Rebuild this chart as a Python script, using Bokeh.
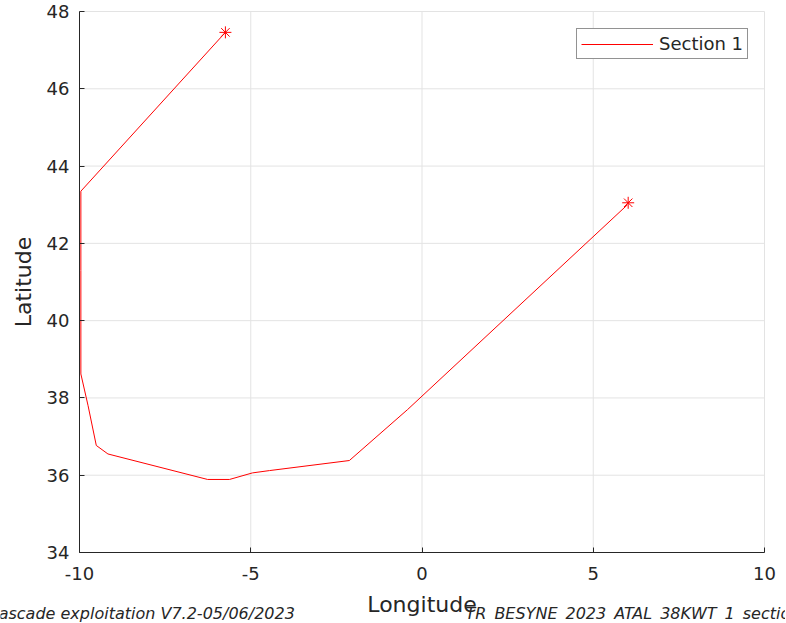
from bokeh.plotting import figure
from bokeh.models import Range1d, FixedTicker, Legend, LegendItem, Label
from bokeh.embed import file_html
from bokeh.resources import INLINE

# Track of Section 1 (longitude, latitude)
track_lon = [-5.74, -9.96, -9.96, -9.96, -9.75, -9.51, -9.17, -6.26, -5.62, -4.95, -4.45, -2.12, -0.42, 6.0]
track_lat = [47.46, 43.35, 41.30, 38.62, 37.80, 36.77, 36.55, 35.89, 35.89, 36.06, 36.12, 36.38, 37.70, 43.0]
start_lon = [-5.74]
start_lat = [47.46]
end_lon = [6.02]
end_lat = [43.05]

x_ticks = [-10, -5, 0, 5, 10]
x_tick_labels = ["-10", "-5", "0", "5", "10"]
y_ticks = [34, 36, 38, 40, 42, 44, 46, 48]

x_label = "Longitude"
y_label = "Latitude"
footer_left = "Cascade exploitation V7.2-05/06/2023"
footer_right = "TR_BESYNE_2023_ATAL_38KWT_1_section1"

FONT = "DejaVu Sans"
TXT = "#262626"
GRID = "#e3e3e3"

W, H = 785, 622
# axes box in canvas pixels
BL, BR, BT, BB = 79, 764, 11, 552
xs = (BR - BL) / (x_ticks[-1] - x_ticks[0])
ys = (BB - BT) / (y_ticks[-1] - y_ticks[0])
x_range = Range1d(x_ticks[0] - BL / xs, x_ticks[-1] + (W - BR) / xs)
y_range = Range1d(y_ticks[0] - (H - BB) / ys, y_ticks[-1] + BT / ys)

p = figure(width=W, height=H, output_backend="svg", toolbar_location=None,
           x_range=x_range, y_range=y_range,
           min_border_left=0, min_border_right=0, min_border_top=0, min_border_bottom=0)

p.background_fill_color = "white"
p.border_fill_color = "white"
p.outline_line_color = None
p.grid.visible = False

# grid lines limited to the axes box
n_x, n_y = len(x_ticks), len(y_ticks)
p.segment(x0=x_ticks, y0=[y_ticks[0]] * n_x, x1=x_ticks, y1=[y_ticks[-1]] * n_x,
          line_color=GRID, line_width=1)
p.segment(x0=[x_ticks[0]] * n_y, y0=y_ticks, x1=[x_ticks[-1]] * n_y, y1=y_ticks,
          line_color=GRID, line_width=1)

line_r = p.line(track_lon, track_lat, line_color="#ff0000", line_width=1)
p.scatter(start_lon, start_lat, marker="asterisk", size=12, line_color="#ff0000", line_width=1)
p.scatter(end_lon, end_lat, marker="asterisk", size=12, line_color="#ff0000", line_width=1)

for ax in (p.xaxis, p.yaxis):
    ax.axis_line_color = TXT
    ax.major_tick_line_color = TXT
    ax.major_tick_in = 5
    ax.major_tick_out = 0
    ax.minor_tick_line_color = None
    ax.major_label_text_font = FONT
    ax.major_label_text_font_size = "18px"
    ax.major_label_text_color = TXT
    ax.axis_label_text_font = FONT
    ax.axis_label_text_font_size = "22px"
    ax.axis_label_text_font_style = "normal"
    ax.axis_label_text_color = TXT

p.xaxis.ticker = FixedTicker(ticks=x_ticks)
p.xaxis.major_label_overrides = {t: s for t, s in zip(x_ticks, x_tick_labels)}
p.yaxis.ticker = FixedTicker(ticks=y_ticks)
p.xaxis.fixed_location = y_ticks[0]
p.yaxis.fixed_location = x_ticks[0]
p.xaxis.bounds = (x_ticks[0], x_ticks[-1])
p.yaxis.bounds = (y_ticks[0], y_ticks[-1])
p.xaxis.axis_label = x_label
p.yaxis.axis_label = y_label
p.xaxis.major_label_standoff = 14
p.yaxis.major_label_standoff = 10
p.xaxis.axis_label_standoff = 9
p.yaxis.axis_label_standoff = 8

legend = Legend(items=[LegendItem(label="Section 1", renderers=[line_r])],
                location=(576, 563), padding=4, spacing=0,
                glyph_width=72, glyph_height=18, label_height=18, label_standoff=6,
                label_text_font=FONT, label_text_font_size="18px", label_text_color=TXT,
                border_line_color="#262626", border_line_width=1,
                background_fill_color="white", background_fill_alpha=1)
p.add_layout(legend)

p.add_layout(Label(x=-13, y=9, x_units="screen", y_units="screen", text=footer_left,
                   text_font=FONT, text_font_size="16px", text_font_style="italic",
                   text_color=TXT, text_baseline="alphabetic"))
p.add_layout(Label(x=465, y=9, x_units="screen", y_units="screen", text=footer_right,
                   text_font=FONT, text_font_size="16px", text_font_style="italic",
                   text_color=TXT, text_baseline="alphabetic"))

open("out.html", "w").write(file_html(p, INLINE))
